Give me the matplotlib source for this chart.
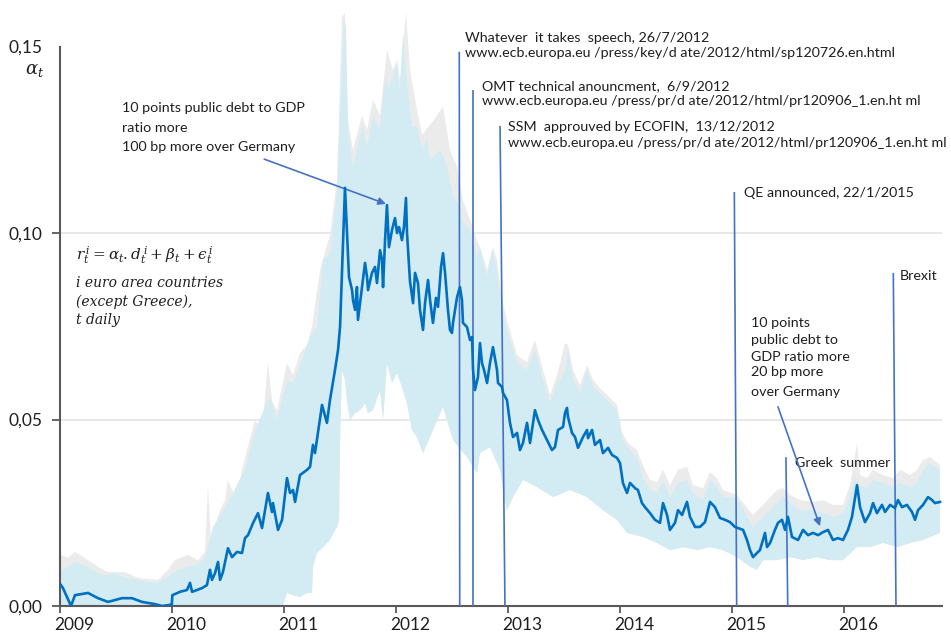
"""
Alpha_t (sensibilité des spreads à la dette publique) - zone euro 2009-2016
Ligne = estimation quotidienne, bande = intervalle de confiance.
"""
import matplotlib
matplotlib.use("Agg")
import matplotlib.pyplot as plt
from matplotlib.transforms import ScaledTranslation

# --- série principale alpha_t ---
line_year = [
    2009.005, 2009.023, 2009.095, 2009.130, 2009.247, 2009.336, 2009.425, 2009.550,
    2009.639, 2009.729, 2009.845, 2009.908, 2009.979, 2009.995, 2010.000, 2010.068,
    2010.131, 2010.158, 2010.176, 2010.265, 2010.309, 2010.336, 2010.354, 2010.381,
    2010.408, 2010.426, 2010.452, 2010.497, 2010.533, 2010.577, 2010.622, 2010.649,
    2010.676, 2010.720, 2010.765, 2010.801, 2010.854, 2010.890, 2010.899, 2010.944,
    2010.980, 2011.024, 2011.051, 2011.078, 2011.096, 2011.140, 2011.203, 2011.230,
    2011.256, 2011.274, 2011.337, 2011.381, 2011.408, 2011.453, 2011.480, 2011.498,
    2011.542, 2011.560, 2011.578, 2011.605, 2011.614, 2011.632, 2011.649, 2011.658,
    2011.694, 2011.721, 2011.739, 2011.748, 2011.783, 2011.810, 2011.828, 2011.855,
    2011.873, 2011.882, 2011.900, 2011.917, 2011.935, 2011.962, 2011.989, 2012.007,
    2012.025, 2012.051, 2012.069, 2012.087, 2012.096, 2012.123, 2012.150, 2012.168,
    2012.194, 2012.212, 2012.239, 2012.257, 2012.284, 2012.302, 2012.328, 2012.355,
    2012.373, 2012.400, 2012.418, 2012.436, 2012.462, 2012.480, 2012.498, 2012.507,
    2012.543, 2012.569, 2012.587, 2012.596, 2012.632, 2012.659, 2012.677, 2012.686,
    2012.703, 2012.730, 2012.748, 2012.766, 2012.784, 2012.811, 2012.837, 2012.864,
    2012.900, 2012.909, 2012.945, 2012.954, 2012.989, 2013.016, 2013.043, 2013.079,
    2013.105, 2013.132, 2013.168, 2013.195, 2013.239, 2013.266, 2013.302, 2013.347,
    2013.391, 2013.418, 2013.445, 2013.490, 2013.507, 2013.525, 2013.534, 2013.570,
    2013.597, 2013.624, 2013.668, 2013.704, 2013.713, 2013.749, 2013.775, 2013.820,
    2013.847, 2013.892, 2013.927, 2013.972, 2013.999, 2014.025, 2014.061, 2014.088,
    2014.133, 2014.159, 2014.195, 2014.222, 2014.267, 2014.311, 2014.356, 2014.383,
    2014.419, 2014.445, 2014.490, 2014.517, 2014.553, 2014.597, 2014.624, 2014.669,
    2014.713, 2014.758, 2014.803, 2014.847, 2014.892, 2014.937, 2014.981, 2015.026,
    2015.053, 2015.098, 2015.133, 2015.160, 2015.187, 2015.222, 2015.249, 2015.294,
    2015.312, 2015.339, 2015.383, 2015.410, 2015.446, 2015.473, 2015.499, 2015.535,
    2015.589, 2015.634, 2015.678, 2015.723, 2015.768, 2015.812, 2015.857, 2015.901,
    2015.946, 2015.991, 2016.035, 2016.071, 2016.116, 2016.143, 2016.187, 2016.232,
    2016.259, 2016.294, 2016.339, 2016.366, 2016.411, 2016.455, 2016.482, 2016.518,
    2016.562, 2016.607, 2016.634, 2016.661, 2016.705, 2016.750, 2016.786, 2016.812,
    2016.857,
]
line_alpha = [
    0.0056, 0.0048, 0.0000, 0.0029, 0.0035, 0.0021, 0.0011, 0.0021,
    0.0021, 0.0011, 0.0005, 0.0000, 0.0003, 0.0003, 0.0029, 0.0038,
    0.0043, 0.0062, 0.0038, 0.0048, 0.0056, 0.0097, 0.0070, 0.0088,
    0.0118, 0.0070, 0.0091, 0.0155, 0.0131, 0.0145, 0.0142, 0.0182,
    0.0190, 0.0222, 0.0249, 0.0209, 0.0303, 0.0252, 0.0276, 0.0204,
    0.0231, 0.0343, 0.0303, 0.0311, 0.0279, 0.0351, 0.0365, 0.0373,
    0.0432, 0.0410, 0.0539, 0.0491, 0.0552, 0.0633, 0.0686, 0.0748,
    0.1121, 0.1000, 0.0882, 0.0847, 0.0820, 0.0794, 0.0855, 0.0767,
    0.0855, 0.0920, 0.0882, 0.0847, 0.0893, 0.0909, 0.0866, 0.0954,
    0.0928, 0.0855, 0.0981, 0.1075, 0.0962, 0.1008, 0.1040, 0.1000,
    0.1016, 0.0981, 0.1016, 0.1094, 0.1000, 0.0870, 0.0812, 0.0893,
    0.0866, 0.0794, 0.0740, 0.0812, 0.0874, 0.0820, 0.0759, 0.0826,
    0.0802, 0.0909, 0.0946, 0.0893, 0.0794, 0.0740, 0.0732, 0.0759,
    0.0828, 0.0855, 0.0820, 0.0759, 0.0748, 0.0713, 0.0721, 0.0633,
    0.0579, 0.0614, 0.0705, 0.0651, 0.0633, 0.0598, 0.0651, 0.0694,
    0.0633, 0.0598, 0.0587, 0.0571, 0.0552, 0.0491, 0.0453, 0.0464,
    0.0418, 0.0437, 0.0491, 0.0437, 0.0525, 0.0499, 0.0472, 0.0445,
    0.0418, 0.0426, 0.0472, 0.0480, 0.0517, 0.0531, 0.0507, 0.0464,
    0.0453, 0.0424, 0.0453, 0.0472, 0.0450, 0.0472, 0.0432, 0.0445,
    0.0410, 0.0424, 0.0405, 0.0397, 0.0383, 0.0330, 0.0303, 0.0330,
    0.0316, 0.0311, 0.0276, 0.0265, 0.0249, 0.0231, 0.0223, 0.0276,
    0.0244, 0.0204, 0.0223, 0.0257, 0.0244, 0.0279, 0.0239, 0.0212,
    0.0212, 0.0225, 0.0279, 0.0265, 0.0236, 0.0231, 0.0225, 0.0212,
    0.0209, 0.0204, 0.0177, 0.0150, 0.0131, 0.0142, 0.0150, 0.0196,
    0.0158, 0.0169, 0.0204, 0.0223, 0.0231, 0.0204, 0.0239, 0.0185,
    0.0177, 0.0204, 0.0190, 0.0196, 0.0190, 0.0198, 0.0204, 0.0177,
    0.0182, 0.0177, 0.0204, 0.0239, 0.0324, 0.0265, 0.0225, 0.0249,
    0.0276, 0.0249, 0.0271, 0.0252, 0.0271, 0.0263, 0.0284, 0.0265,
    0.0271, 0.0252, 0.0231, 0.0257, 0.0271, 0.0292, 0.0284, 0.0276,
    0.0279,
]

# --- borne haute de l'intervalle (bleu clair) ---
band_up_year = [
    2009.005, 2009.068, 2009.130, 2009.193, 2009.247, 2009.336, 2009.398, 2009.488,
    2009.577, 2009.693, 2009.782, 2009.872, 2009.961, 2010.051, 2010.140, 2010.229,
    2010.292, 2010.318, 2010.363, 2010.408, 2010.470, 2010.533, 2010.586, 2010.649,
    2010.694, 2010.756, 2010.872, 2010.935, 2011.024, 2011.078, 2011.158, 2011.230,
    2011.292, 2011.346, 2011.408, 2011.471, 2011.515, 2011.533, 2011.551, 2011.569,
    2011.614, 2011.649, 2011.694, 2011.739, 2011.792, 2011.855, 2011.900, 2011.935,
    2011.971, 2012.007, 2012.033, 2012.060, 2012.096, 2012.140, 2012.185, 2012.230,
    2012.275, 2012.302, 2012.391, 2012.453, 2012.507, 2012.569, 2012.596, 2012.659,
    2012.686, 2012.721, 2012.748, 2012.811, 2012.855, 2012.900, 2012.945, 2012.989,
    2013.079, 2013.168, 2013.239, 2013.311, 2013.374, 2013.436, 2013.507, 2013.534,
    2013.579, 2013.641, 2013.704, 2013.758, 2013.820, 2013.883, 2013.972, 2013.999,
    2014.017, 2014.088, 2014.151, 2014.204, 2014.267, 2014.329, 2014.383, 2014.445,
    2014.517, 2014.597, 2014.651, 2014.740, 2014.803, 2014.865, 2014.919, 2014.999,
    2015.071, 2015.133, 2015.187, 2015.276, 2015.401, 2015.455, 2015.517, 2015.607,
    2015.723, 2015.812, 2015.901, 2015.991, 2016.053, 2016.098, 2016.143, 2016.205,
    2016.259, 2016.348, 2016.437, 2016.500, 2016.589, 2016.651, 2016.705, 2016.768,
    2016.857,
]
band_up = [
    0.0097, 0.0105, 0.0118, 0.0110, 0.0105, 0.0088, 0.0083, 0.0088,
    0.0075, 0.0070, 0.0064, 0.0062, 0.0078, 0.0097, 0.0105, 0.0110,
    0.0131, 0.0158, 0.0212, 0.0231, 0.0265, 0.0298, 0.0330, 0.0365,
    0.0418, 0.0485, 0.0560, 0.0499, 0.0606, 0.0598, 0.0660, 0.0721,
    0.0748, 0.0928, 0.0946, 0.1107, 0.1445, 0.1571, 0.1552, 0.1268,
    0.1177, 0.1223, 0.1284, 0.1231, 0.1311, 0.1284, 0.1410, 0.1391,
    0.1418, 0.1456, 0.1383, 0.1536, 0.1402, 0.1284, 0.1284, 0.1223,
    0.1249, 0.1196, 0.1223, 0.1180, 0.1100, 0.1070, 0.1027, 0.1008,
    0.0981, 0.0936, 0.0962, 0.0882, 0.0954, 0.0901, 0.0786, 0.0740,
    0.0651, 0.0633, 0.0686, 0.0606, 0.0544, 0.0598, 0.0625, 0.0686,
    0.0606, 0.0571, 0.0633, 0.0587, 0.0571, 0.0552, 0.0525, 0.0491,
    0.0445, 0.0418, 0.0399, 0.0346, 0.0311, 0.0303, 0.0338, 0.0292,
    0.0330, 0.0338, 0.0303, 0.0284, 0.0338, 0.0319, 0.0292, 0.0292,
    0.0276, 0.0239, 0.0212, 0.0239, 0.0276, 0.0292, 0.0276, 0.0257,
    0.0257, 0.0249, 0.0239, 0.0249, 0.0292, 0.0346, 0.0319, 0.0319,
    0.0338, 0.0330, 0.0319, 0.0330, 0.0319, 0.0330, 0.0365, 0.0383,
    0.0365,
]

# --- borne basse de l'intervalle ---
band_lo_year = [
    2009.005, 2010.950, 2010.988, 2011.024, 2011.078, 2011.140, 2011.203, 2011.247,
    2011.256, 2011.292, 2011.346, 2011.408, 2011.471, 2011.489, 2011.498, 2011.515,
    2011.542, 2011.560, 2011.587, 2011.632, 2011.676, 2011.721, 2011.748, 2011.792,
    2011.855, 2011.882, 2011.917, 2011.962, 2012.007, 2012.051, 2012.096, 2012.140,
    2012.185, 2012.239, 2012.328, 2012.418, 2012.507, 2012.632, 2012.721, 2012.748,
    2012.837, 2012.927, 2012.989, 2013.043, 2013.132, 2013.257, 2013.400, 2013.552,
    2013.704, 2013.847, 2013.972, 2014.061, 2014.204, 2014.329, 2014.445, 2014.561,
    2014.686, 2014.803, 2014.919, 2015.044, 2015.160, 2015.222, 2015.276, 2015.401,
    2015.517, 2015.634, 2015.758, 2015.874, 2015.991, 2016.116, 2016.232, 2016.348,
    2016.473, 2016.589, 2016.705, 2016.857,
]
band_lo = [
    0.0000, 0.0000, 0.0000, 0.0035, 0.0029, 0.0024, 0.0035, 0.0035,
    0.0105, 0.0142, 0.0158, 0.0177, 0.0212, 0.0231, 0.0445, 0.0633,
    0.0606, 0.0552, 0.0499, 0.0517, 0.0525, 0.0544, 0.0517, 0.0525,
    0.0579, 0.0499, 0.0651, 0.0598, 0.0625, 0.0587, 0.0544, 0.0472,
    0.0453, 0.0410, 0.0472, 0.0534, 0.0445, 0.0399, 0.0357, 0.0410,
    0.0426, 0.0365, 0.0257, 0.0292, 0.0338, 0.0319, 0.0292, 0.0311,
    0.0292, 0.0257, 0.0231, 0.0196, 0.0185, 0.0169, 0.0150, 0.0158,
    0.0150, 0.0158, 0.0150, 0.0131, 0.0105, 0.0097, 0.0123, 0.0123,
    0.0131, 0.0123, 0.0131, 0.0123, 0.0123, 0.0158, 0.0158, 0.0169,
    0.0158, 0.0169, 0.0177, 0.0196,
]

# --- borne haute de l'intervalle large (gris) ---
grey_up_year = [
    2009.005, 2009.068, 2009.130, 2009.247, 2009.336, 2009.425, 2009.577, 2009.693,
    2009.872, 2009.961, 2010.024, 2010.140, 2010.229, 2010.292, 2010.318, 2010.345,
    2010.408, 2010.470, 2010.497, 2010.533, 2010.577, 2010.622, 2010.667, 2010.738,
    2010.801, 2010.854, 2010.890, 2010.935, 2011.024, 2011.078, 2011.140, 2011.203,
    2011.247, 2011.319, 2011.408, 2011.471, 2011.515, 2011.542, 2011.569, 2011.614,
    2011.649, 2011.694, 2011.739, 2011.792, 2011.855, 2011.917, 2011.971, 2012.007,
    2012.033, 2012.087, 2012.123, 2012.185, 2012.230, 2012.302, 2012.418, 2012.480,
    2012.543, 2012.596, 2012.659, 2012.721, 2012.748, 2012.811, 2012.864, 2012.900,
    2012.945, 2012.989, 2013.079, 2013.168, 2013.239, 2013.311, 2013.374, 2013.436,
    2013.507, 2013.534, 2013.579, 2013.641, 2013.704, 2013.758, 2013.820, 2013.883,
    2013.972, 2014.017, 2014.070, 2014.151, 2014.204, 2014.267, 2014.329, 2014.383,
    2014.445, 2014.517, 2014.597, 2014.651, 2014.740, 2014.803, 2014.865, 2014.919,
    2015.044, 2015.133, 2015.187, 2015.276, 2015.401, 2015.455, 2015.517, 2015.607,
    2015.723, 2015.812, 2015.901, 2015.991, 2016.053, 2016.116, 2016.143, 2016.205,
    2016.259, 2016.348, 2016.437, 2016.500, 2016.589, 2016.651, 2016.705, 2016.768,
    2016.857,
]
grey_up = [
    0.0137, 0.0129, 0.0145, 0.0123, 0.0105, 0.0091, 0.0091, 0.0075,
    0.0070, 0.0097, 0.0123, 0.0137, 0.0123, 0.0145, 0.0324, 0.0177,
    0.0244, 0.0284, 0.0338, 0.0311, 0.0292, 0.0365, 0.0418, 0.0499,
    0.0472, 0.0651, 0.0552, 0.0525, 0.0651, 0.0619, 0.0678, 0.0700,
    0.0748, 0.0901, 0.0995, 0.1142, 0.1579, 0.1590, 0.1303, 0.1223,
    0.1263, 0.1316, 0.1276, 0.1357, 0.1316, 0.1491, 0.1437, 0.1464,
    0.1410, 0.1592, 0.1437, 0.1330, 0.1263, 0.1290, 0.1338, 0.1223,
    0.1177, 0.1088, 0.1035, 0.0981, 0.0962, 0.0901, 0.0962, 0.0928,
    0.0820, 0.0767, 0.0673, 0.0654, 0.0713, 0.0633, 0.0566, 0.0619,
    0.0705, 0.0700, 0.0633, 0.0592, 0.0646, 0.0606, 0.0584, 0.0566,
    0.0539, 0.0466, 0.0437, 0.0418, 0.0378, 0.0338, 0.0332, 0.0365,
    0.0324, 0.0365, 0.0373, 0.0324, 0.0316, 0.0359, 0.0343, 0.0311,
    0.0298, 0.0263, 0.0244, 0.0271, 0.0311, 0.0316, 0.0298, 0.0284,
    0.0279, 0.0284, 0.0271, 0.0271, 0.0324, 0.0437, 0.0351, 0.0343,
    0.0365, 0.0351, 0.0343, 0.0365, 0.0351, 0.0365, 0.0391, 0.0399,
    0.0378,
]

# --- événements (traits verticaux) ---
event_x_top = [2012.563, 2012.688, 2012.927, 2015.020, 2015.481, 2016.440]
event_x_bot = [2012.567, 2012.688, 2012.971, 2015.041, 2015.497, 2016.464]
event_top = [0.1486, 0.1383, 0.1287, 0.1110, 0.0399, 0.0893]

year_ticks = [2009, 2010, 2011, 2012, 2013, 2014, 2015, 2016]
year_labels = ["2009", "2010", "2011", "2012", "2013", "2014", "2015", "2016"]
alpha_ticks = [0.0, 0.05, 0.10, 0.15]
alpha_labels = ["0,00", "0,05", "0,10", "0,15"]

LINE_BLUE = "#0070C0"
BAND_BLUE = "#D3EBF2"
BAND_GREY = "#EBEBEB"
EVENT_BLUE = "#4472C4"
TXT = "#1F1F1F"
SANS = "Lato"

fig = plt.figure(figsize=(9.51, 6.35), dpi=100)
ax = fig.add_axes([60.4 / 951, 29 / 635, (942 - 60.4) / 951, 606 / 635])
ax.set_xlim(2009.0, 2016.875)
ax.set_ylim(0, 0.16247)

# grille horizontale
for g in [0.05, 0.10]:
    ax.axhline(g, color="#E6E6E6", lw=1.3, zorder=0.5)

# bandes de confiance
ax.fill(grey_up_year + band_lo_year[::-1], grey_up + band_lo[::-1],
        color=BAND_GREY, lw=0, zorder=1)
ax.fill(band_up_year + band_lo_year[::-1], band_up + band_lo[::-1],
        color=BAND_BLUE, lw=0, zorder=2)

# événements
for xt, xb, top in zip(event_x_top, event_x_bot, event_top):
    ax.plot([xb, xt], [0, top], color=EVENT_BLUE, lw=1.2, zorder=3,
            solid_capstyle="butt")

ax.plot(line_year, line_alpha, color=LINE_BLUE, lw=1.9, zorder=4,
        solid_joinstyle="round")

# axes
for s in ["top", "right"]:
    ax.spines[s].set_visible(False)
for s in ["left", "bottom"]:
    ax.spines[s].set_color("#595959")
    ax.spines[s].set_linewidth(1.5)
ax.spines["left"].set_bounds(0, 0.15)

ax.set_yticks(alpha_ticks)
ax.set_yticklabels(alpha_labels, fontsize=12.5, color=TXT, family=SANS)
ax.set_xticks(year_ticks)
ax.set_xticklabels(year_labels, fontsize=12.5, color=TXT, family=SANS)
ax.tick_params(axis="y", length=6, width=1.3, color="#595959", pad=7)
ax.tick_params(axis="x", length=5, width=1.3, color="#595959", pad=3)
ax.yaxis.get_major_ticks()[3].tick1line.set_visible(False)
shift = ScaledTranslation(-6 / 100, 0, fig.dpi_scale_trans)
for lab in ax.get_xticklabels():
    lab.set_horizontalalignment("left")
    lab.set_transform(lab.get_transform() + shift)

ax.text(2008.773, 0.1437, r"$\alpha_t$", fontsize=13, color=TXT,
        ha="center", va="center", math_fontfamily="dejavuserif")

# textes d'annotation (gauche, centre vertical)
notes = [
    (2012.614, 0.1523, "Whatever  it takes  speech, 26/7/2012"),
    (2012.614, 0.1483, "www.ecb.europa.eu /press/key/d ate/2012/html/sp120726.en.html"),
    (2012.766, 0.1394, "OMT technical anouncment,  6/9/2012"),
    (2012.766, 0.1354, "www.ecb.europa.eu /press/pr/d ate/2012/html/pr120906_1.en.ht ml"),
    (2012.998, 0.1284, "SSM  approuved by ECOFIN,  13/12/2012"),
    (2012.998, 0.1241, "www.ecb.europa.eu /press/pr/d ate/2012/html/pr120906_1.en.ht ml"),
    (2015.106, 0.1107, "QE announced, 22/1/2015"),
    (2016.500, 0.0885, "Brexit"),
    (2015.169, 0.0759, "10 points"),
    (2015.169, 0.0713, "public debt to"),
    (2015.169, 0.0668, "GDP ratio more"),
    (2015.169, 0.0627, "20 bp more"),
    (2015.169, 0.0574, "over Germany"),
    (2015.562, 0.0383, "Greek  summer"),
    (2009.552, 0.1335, "10 points public debt to GDP"),
    (2009.552, 0.1282, "ratio more"),
    (2009.552, 0.1231, "100 bp more over Germany"),
]
for x, y, s in notes:
    ax.text(x, y, s, fontsize=10.3, color=TXT, family=SANS, ha="left", va="center")

# epsilon lunaire (U+03F5) comme dans l'original
formula = (r"$r_t^{\,i} = \alpha_t . d_t^{\,i} + \beta_t + "
           + "\u03f5" + r"_t^{\,i}$")
ax.text(2009.139, 0.0941, formula, fontsize=11, color=TXT, ha="left",
        va="center", math_fontfamily="dejavuserif")
for y, s in [(0.0866, "i euro area countries"), (0.0815, "(except Greece),"),
             (0.0767, "t daily")]:
    ax.text(2009.139, y, s, fontsize=10, color=TXT, family="DejaVu Serif",
            style="italic", ha="left", va="center")

arrow = dict(arrowstyle="-|>", color=EVENT_BLUE, lw=1.2, mutation_scale=11,
             shrinkA=0, shrinkB=0)
ax.annotate("", xy=(2011.908, 0.1078), xytext=(2010.821, 0.1198), arrowprops=arrow)
ax.annotate("", xy=(2015.785, 0.0214), xytext=(2015.410, 0.0534), arrowprops=arrow)

fig.savefig("out.png", dpi=100)
